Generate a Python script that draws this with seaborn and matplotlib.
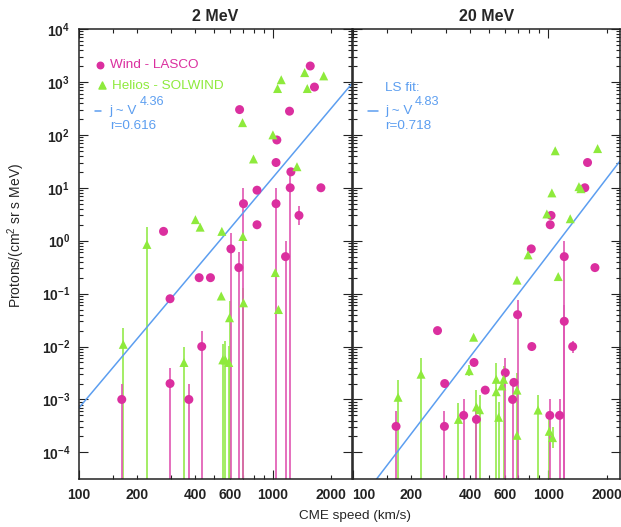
import numpy as np
import pandas as pd
import seaborn as sns
import matplotlib
matplotlib.use("Agg")
import matplotlib.pyplot as plt
from matplotlib.ticker import FixedLocator, FuncFormatter, NullFormatter

# colours of the two data sets and of the fit
MAGENTA = "#DB2F9F"
GREEN = "#8EEA3C"
BLUE = "#5C9EF0"
bar_colours = {"Wind - LASCO": "#E056B2", "Helios - SOLWIND": "#94EA4A"}

# error bar ends: 0 -> bar runs down to the bottom of the plot, nan -> no bar
# ---- 2 MeV, Wind - LASCO
wind2_speed = [1560, 1640, 675, 1220, 1050, 1040, 1240, 1230, 1770, 830, 707, 1040, 1365,
               830, 274, 609, 1164, 669, 418, 478, 296, 431, 296, 167, 370]
wind2_flux = [2000, 800, 300, 280, 80, 30, 20, 10, 10, 9, 5, 5, 3,
              2, 1.5, 0.7, 0.5, 0.31, 0.2, 0.2, 0.08, 0.01, 0.002, 0.001, 0.001]
wind2_lo = [np.nan] * 7 + [0, np.nan, np.nan, 0, 0, 2,
                           np.nan, np.nan, 0, 0, 0, np.nan, np.nan, np.nan, 0, 0, 0, 0]
wind2_hi = [np.nan] * 7 + [20, np.nan, np.nan, 10, 10, 4.5,
                           np.nan, np.nan, 1.4, 1.0, 0.6, np.nan, np.nan, np.nan, 0.02, 0.004, 0.002, 0.002]

# ---- 2 MeV, Helios - SOLWIND
helios2_speed = [1460, 1830, 1106, 1059, 1506, 699, 1002, 796, 1333, 400, 423, 547,
                 702, 225, 1030, 1070, 543, 707, 599, 170, 349, 553, 570, 594]
helios2_flux = [1500, 1300, 1100, 750, 750, 170, 100, 35, 25, 2.5, 1.8, 1.5,
                1.2, 0.85, 0.25, 0.05, 0.09, 0.067, 0.035, 0.011, 0.005, 0.0056, 0.0056, 0.005]
helios2_lo = [np.nan] * 13 + [0, np.nan, np.nan, np.nan, 0, 0, 0, 0, 0, 0, 0]
helios2_hi = [np.nan] * 13 + [1.8, np.nan, np.nan, np.nan, 0.13, 0.072, 0.022, 0.01, 0.011, 0.013, 0.0104]

# ---- 20 MeV, Wind - LASCO
wind20_speed = [1590, 1540, 1035, 1025, 820, 1209, 1735, 698, 1209, 272, 825, 1335,
                418, 296, 477, 604, 668, 658, 370, 430, 1020, 1144, 167, 295]
wind20_flux = [30, 10, 3.0, 2.0, 0.7, 0.5, 0.31, 0.04, 0.03, 0.02, 0.01, 0.01,
               0.005, 0.002, 0.0015, 0.0032, 0.0021, 0.001, 0.0005, 0.00042, 0.0005, 0.0005, 0.00031, 0.00031]
wind20_lo = [np.nan] * 5 + [0, np.nan, 0, 0, np.nan, np.nan, 0.0075,
                            np.nan, np.nan, np.nan, 0, np.nan, 0, 0, 0, 0, 0, 0, 0]
wind20_hi = [np.nan] * 5 + [1.0, np.nan, 0.077, 0.06, np.nan, np.nan, 0.013,
                            np.nan, np.nan, np.nan, 0.006, np.nan, 0.002, 0.001, 0.0008, 0.001, 0.001, 0.0006, 0.0006]

# ---- 20 MeV, Helios - SOLWIND
helios20_speed = [1087, 1790, 1437, 1470, 1045, 985, 1297, 790, 693, 1126, 416, 395, 224, 171,
                  543, 543, 592, 580, 558, 348, 430, 446, 693, 693, 888, 1013, 1053]
helios20_flux = [50, 55, 10.5, 9.6, 8, 3.2, 2.6, 0.54, 0.18, 0.21, 0.015, 0.0035, 0.003, 0.0011,
                 0.0024, 0.0014, 0.0024, 0.0018, 0.00046, 0.00042, 0.00072, 0.00064, 0.0015, 0.00021,
                 0.00063, 0.00025, 0.00019]
helios20_lo = [np.nan] * 11 + [0.0028, 0, 0, 0, np.nan, 0, np.nan, 0, 0, 0, 0, 0, np.nan, 0, 0, 0.00012]
helios20_hi = [np.nan] * 11 + [0.0045, 0.006, 0.0023, 0.0049, np.nan, 0.0042, np.nan, 0.0009, 0.00085,
                               0.0015, 0.0012, 0.0032, np.nan, 0.0012, 0.0005, 0.0003]

# least squares fits  j ~ V^k  (k, j at 1000 km/s, r)
fit2 = (4.36, 15.5, 0.616)
fit20 = (4.83, 0.54, 0.718)

x_major = [100, 1000]
x_minor = [150, 200, 300, 400, 500, 600, 700, 800, 900, 2000]
x_labels = {100: "100", 200: "200", 400: "400", 600: "600", 1000: "1000", 2000: "2000"}
y_decades = [-4, -3, -2, -1, 0, 1, 2, 3, 4]
YMIN, YMAX = 3.1e-5, 1e4


def make_frame(speed, flux, lo, hi, source):
    return pd.DataFrame({"speed": speed, "flux": flux, "lo": lo, "hi": hi, "source": source})


sns.set_theme(style="ticks")
plt.rcParams["font.family"] = ["Liberation Sans", "DejaVu Sans"]
plt.rcParams["mathtext.fontset"] = "custom"
plt.rcParams["mathtext.rm"] = "Liberation Sans"
plt.rcParams["mathtext.bf"] = "Liberation Sans:bold"
plt.rcParams["mathtext.it"] = "Liberation Sans:italic"

palette = {"Wind - LASCO": MAGENTA, "Helios - SOLWIND": GREEN}
markers = {"Wind - LASCO": "o", "Helios - SOLWIND": "^"}

fig = plt.figure(figsize=(6.21, 5.27), dpi=100)
W, H = 621.0, 527.0
ax1 = fig.add_axes([78.5 / W, 1 - 479.3 / H, 273.2 / W, 450.3 / H])
ax2 = fig.add_axes([352.5 / W, 1 - 479.3 / H, 267.5 / W, 450.3 / H])

panels = [
    (ax1, "2 MeV", 2550,
     pd.concat([make_frame(wind2_speed, wind2_flux, wind2_lo, wind2_hi, "Wind - LASCO"),
                make_frame(helios2_speed, helios2_flux, helios2_lo, helios2_hi, "Helios - SOLWIND")]),
     fit2),
    (ax2, "20 MeV", 2330,
     pd.concat([make_frame(wind20_speed, wind20_flux, wind20_lo, wind20_hi, "Wind - LASCO"),
                make_frame(helios20_speed, helios20_flux, helios20_lo, helios20_hi, "Helios - SOLWIND")]),
     fit20),
]

for ax, title, xmax, df, fit in panels:
    ax.set_xscale("log")
    ax.set_yscale("log")

    # error bars, drawn as plain vertical lines
    for source, grp in df.groupby("source"):
        err = grp.dropna(subset=["hi"])
        lo = err["lo"].where(err["lo"] > 0, YMIN * 0.1)
        ax.vlines(err["speed"], lo, err["hi"], color=bar_colours[source], lw=1.2, zorder=2)

    sns.scatterplot(data=df, x="speed", y="flux", hue="source", style="source",
                    palette=palette, markers=markers, s=42, edgecolor="none",
                    legend=False, ax=ax, zorder=3)

    k, j1000, r = fit
    fit_v = np.array([100, xmax])
    sns.lineplot(x=fit_v, y=j1000 * (fit_v / 1000.0) ** k, color=BLUE, lw=1.1, ax=ax, zorder=2)

    ax.set_xlim(100, xmax)
    ax.set_ylim(YMIN, YMAX)
    ax.set_xlabel("")
    ax.set_ylabel("")
    ax.set_title(title, fontsize=11.5, fontweight="bold", pad=6)

    ax.xaxis.set_major_locator(FixedLocator(x_major))
    ax.xaxis.set_minor_locator(FixedLocator(x_minor))
    fmt = FuncFormatter(lambda v, p: x_labels.get(int(round(v)), ""))
    ax.xaxis.set_major_formatter(fmt)
    ax.xaxis.set_minor_formatter(fmt)
    ax.yaxis.set_major_locator(FixedLocator([10.0 ** d for d in y_decades]))
    ax.yaxis.set_minor_locator(FixedLocator([m * 10.0 ** d for d in y_decades[:-1] for m in range(2, 10)]))
    ax.yaxis.set_major_formatter(FuncFormatter(lambda v, p: r"$\mathbf{10^{%d}}$" % int(round(np.log10(v)))))
    ax.yaxis.set_minor_formatter(NullFormatter())

    ax.tick_params(which="both", direction="in", top=True, right=True, colors="#222222",
                   labelsize=10, width=0.8)
    ax.tick_params(which="major", length=6.5, pad=6)
    ax.tick_params(which="minor", length=3.2, pad=6)
    for lab in ax.get_xticklabels(which="both"):
        lab.set_fontweight("bold")
    for sp in ax.spines.values():
        sp.set_linewidth(1.1)
        sp.set_color("#222222")

ax2.tick_params(which="both", labelleft=False)
ax2.get_xticklabels()[0].set_horizontalalignment("left")

# in-plot labels, left panel
ax1.scatter([0.0798], [0.9194], transform=ax1.transAxes, marker="o", s=22, color=MAGENTA, clip_on=False)
ax1.text(0.1142, 0.9194, "Wind - LASCO", transform=ax1.transAxes, color=MAGENTA,
         fontsize=9.7, va="center", ha="left")
ax1.scatter([0.086], [0.875], transform=ax1.transAxes, marker="^", s=26, color=GREEN, clip_on=False)
ax1.text(0.1226, 0.8734, "Helios - SOLWIND", transform=ax1.transAxes, color=GREEN,
         fontsize=9.7, va="center", ha="left")


def fit_label(ax, x_dash, x_text, y_line, y_r, fit):
    k, j1000, r = fit
    ax.plot(x_dash, [y_line, y_line], transform=ax.transAxes, color=BLUE, lw=1.1, clip_on=False)
    t = ax.text(x_text, y_line, "j ~ V", transform=ax.transAxes, color=BLUE,
                fontsize=9.7, va="center", ha="left")
    ax.annotate("%.2f" % k, xy=(1, 0.5), xycoords=t, xytext=(2, 6.5), textcoords="offset points",
                color=BLUE, fontsize=9.2, va="center", ha="left")
    ax.text(x_text, y_r, "r=%.3f" % r, transform=ax.transAxes, color=BLUE,
            fontsize=9.7, va="center", ha="left")


fit_label(ax1, [0.0593, 0.0835], 0.1142, 0.818, 0.7846, fit2)
ax2.text(0.1215, 0.8683, "LS fit:", transform=ax2.transAxes, color=BLUE,
         fontsize=9.7, va="center", ha="left")
fit_label(ax2, [0.059, 0.0966], 0.1215, 0.818, 0.7846, fit20)

fig.text(355 / W, 1 - 516 / H, "CME speed (km/s)", ha="center", va="center", fontsize=9.7)
fig.text(16 / W, 1 - 235 / H, "Protons/(cm$^2$ sr s MeV)", rotation=90,
         ha="center", va="center", fontsize=10)

fig.savefig("out.png", dpi=100)
